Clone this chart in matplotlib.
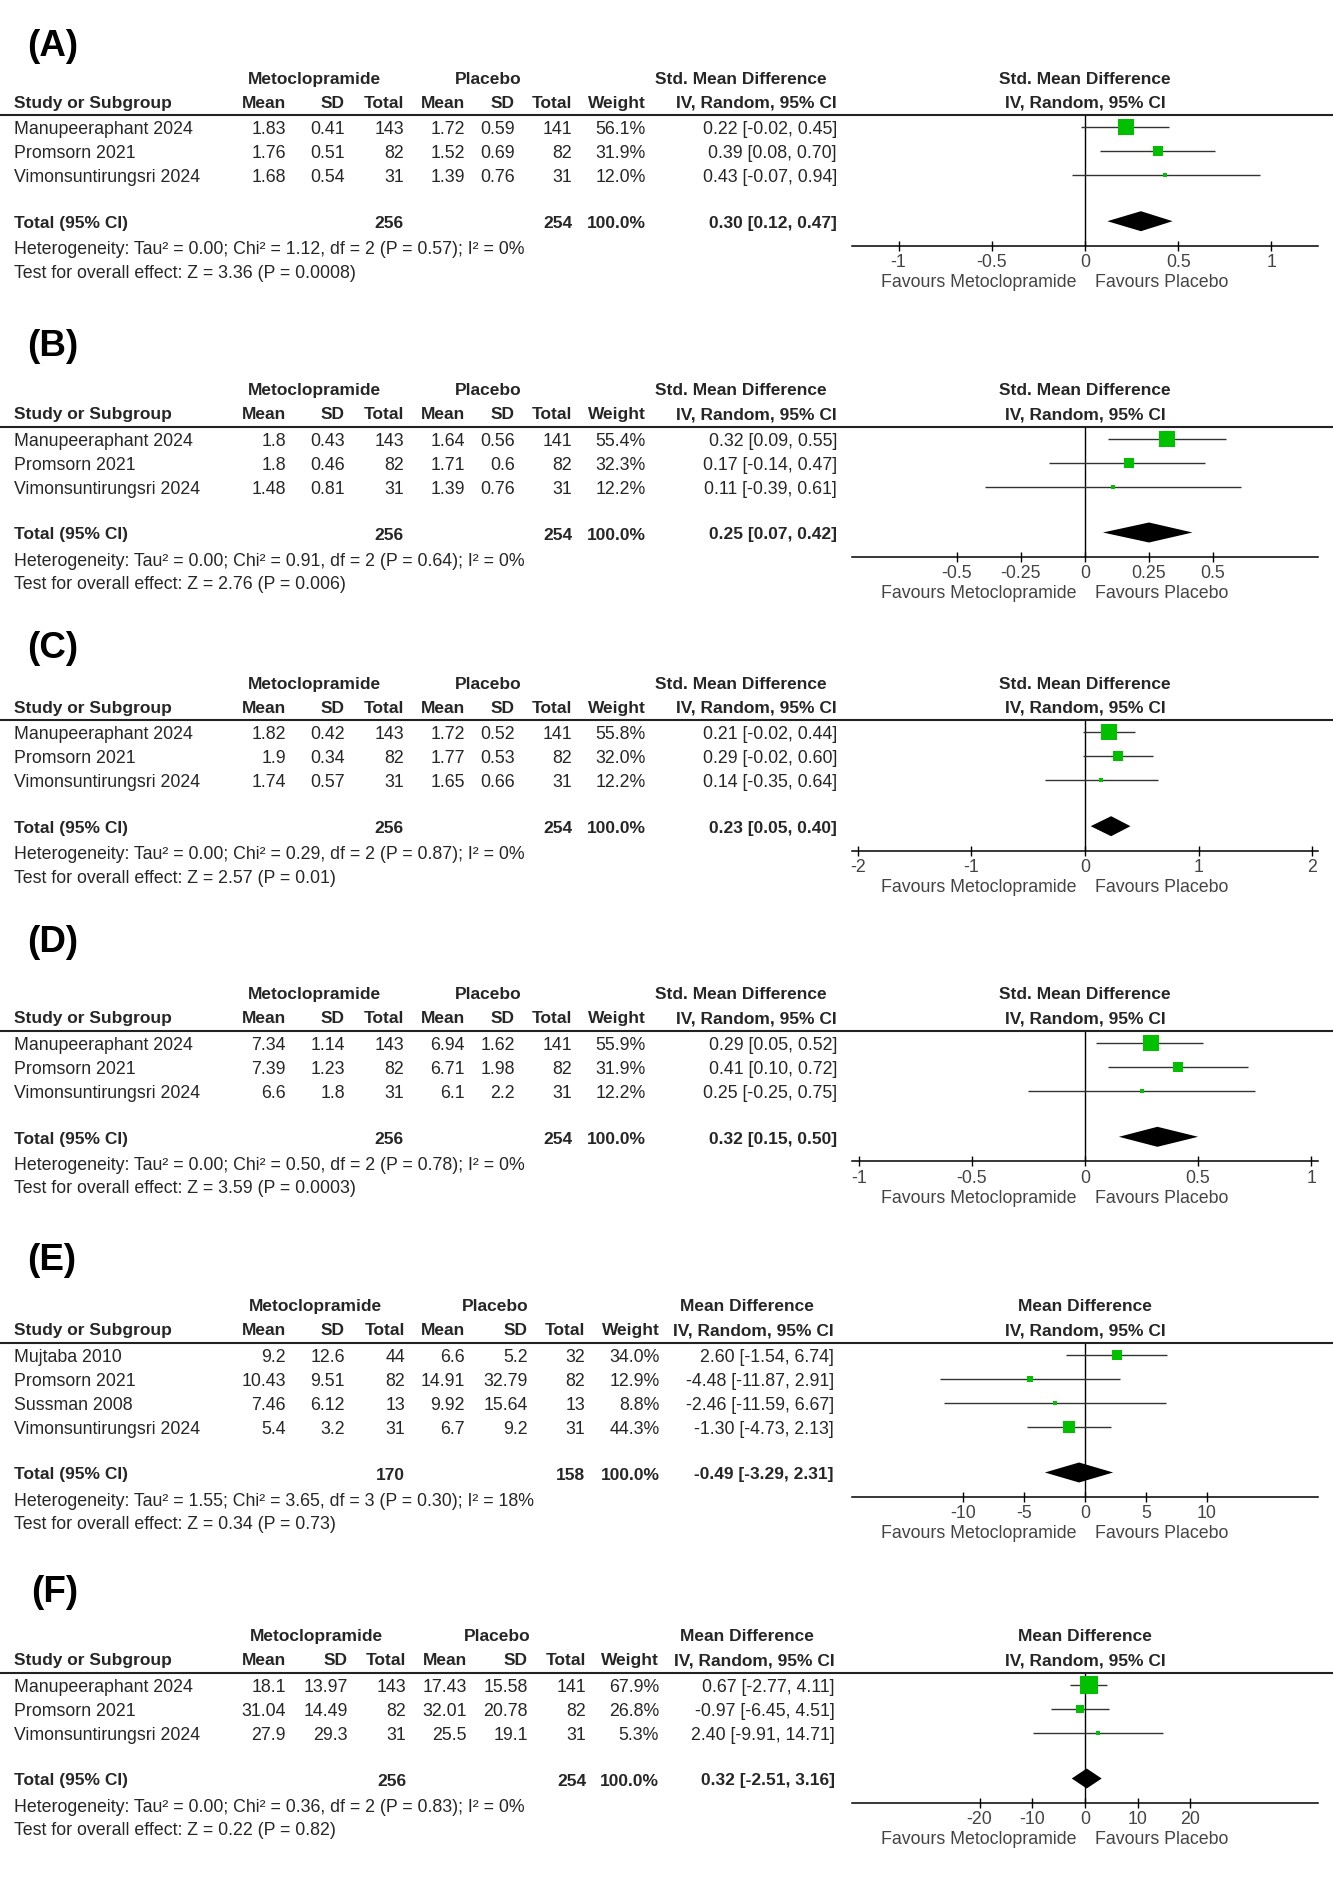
import matplotlib
matplotlib.use("Agg")
import matplotlib.pyplot as plt
from matplotlib.lines import Line2D
from matplotlib.transforms import blended_transform_factory

# ---------------- data ----------------
panel_labels = ["(A)", "(B)", "(C)", "(D)", "(E)", "(F)"]
effect_titles = ["Std. Mean Difference"] * 4 + ["Mean Difference"] * 2

studies_3 = ["Manupeeraphant 2024", "Promsorn 2021", "Vimonsuntirungsri 2024"]
studies_E = ["Mujtaba 2010", "Promsorn 2021", "Sussman 2008", "Vimonsuntirungsri 2024"]

exp_n_3 = [143, 82, 31]
ctl_n_3 = [141, 82, 31]
exp_n_E = [44, 82, 13, 31]
ctl_n_E = [32, 82, 13, 31]

A_exp_mean = [1.83, 1.76, 1.68]
A_exp_sd = [0.41, 0.51, 0.54]
A_ctl_mean = [1.72, 1.52, 1.39]
A_ctl_sd = [0.59, 0.69, 0.76]
A_weight = [56.1, 31.9, 12.0]
A_est = [0.22, 0.39, 0.43]
A_lo = [-0.02, 0.08, -0.07]
A_hi = [0.45, 0.70, 0.94]
A_total = [0.30, 0.12, 0.47]
A_het = "Heterogeneity: Tau² = 0.00; Chi² = 1.12, df = 2 (P = 0.57); I² = 0%"
A_test = "Test for overall effect: Z = 3.36 (P = 0.0008)"

B_exp_mean = [1.8, 1.8, 1.48]
B_exp_sd = [0.43, 0.46, 0.81]
B_ctl_mean = [1.64, 1.71, 1.39]
B_ctl_sd = [0.56, 0.6, 0.76]
B_weight = [55.4, 32.3, 12.2]
B_est = [0.32, 0.17, 0.11]
B_lo = [0.09, -0.14, -0.39]
B_hi = [0.55, 0.47, 0.61]
B_total = [0.25, 0.07, 0.42]
B_het = "Heterogeneity: Tau² = 0.00; Chi² = 0.91, df = 2 (P = 0.64); I² = 0%"
B_test = "Test for overall effect: Z = 2.76 (P = 0.006)"

C_exp_mean = [1.82, 1.9, 1.74]
C_exp_sd = [0.42, 0.34, 0.57]
C_ctl_mean = [1.72, 1.77, 1.65]
C_ctl_sd = [0.52, 0.53, 0.66]
C_weight = [55.8, 32.0, 12.2]
C_est = [0.21, 0.29, 0.14]
C_lo = [-0.02, -0.02, -0.35]
C_hi = [0.44, 0.60, 0.64]
C_total = [0.23, 0.05, 0.40]
C_het = "Heterogeneity: Tau² = 0.00; Chi² = 0.29, df = 2 (P = 0.87); I² = 0%"
C_test = "Test for overall effect: Z = 2.57 (P = 0.01)"

D_exp_mean = [7.34, 7.39, 6.6]
D_exp_sd = [1.14, 1.23, 1.8]
D_ctl_mean = [6.94, 6.71, 6.1]
D_ctl_sd = [1.62, 1.98, 2.2]
D_weight = [55.9, 31.9, 12.2]
D_est = [0.29, 0.41, 0.25]
D_lo = [0.05, 0.10, -0.25]
D_hi = [0.52, 0.72, 0.75]
D_total = [0.32, 0.15, 0.50]
D_het = "Heterogeneity: Tau² = 0.00; Chi² = 0.50, df = 2 (P = 0.78); I² = 0%"
D_test = "Test for overall effect: Z = 3.59 (P = 0.0003)"

E_exp_mean = [9.2, 10.43, 7.46, 5.4]
E_exp_sd = [12.6, 9.51, 6.12, 3.2]
E_ctl_mean = [6.6, 14.91, 9.92, 6.7]
E_ctl_sd = [5.2, 32.79, 15.64, 9.2]
E_weight = [34.0, 12.9, 8.8, 44.3]
E_est = [2.60, -4.48, -2.46, -1.30]
E_lo = [-1.54, -11.87, -11.59, -4.73]
E_hi = [6.74, 2.91, 6.67, 2.13]
E_total = [-0.49, -3.29, 2.31]
E_het = "Heterogeneity: Tau² = 1.55; Chi² = 3.65, df = 3 (P = 0.30); I² = 18%"
E_test = "Test for overall effect: Z = 0.34 (P = 0.73)"

F_exp_mean = [18.1, 31.04, 27.9]
F_exp_sd = [13.97, 14.49, 29.3]
F_ctl_mean = [17.43, 32.01, 25.5]
F_ctl_sd = [15.58, 20.78, 19.1]
F_weight = [67.9, 26.8, 5.3]
F_est = [0.67, -0.97, 2.40]
F_lo = [-2.77, -6.45, -9.91]
F_hi = [4.11, 4.51, 14.71]
F_total = [0.32, -2.51, 3.16]
F_het = "Heterogeneity: Tau² = 0.00; Chi² = 0.36, df = 2 (P = 0.83); I² = 0%"
F_test = "Test for overall effect: Z = 0.22 (P = 0.82)"

axis_ticks = [
    [-1, -0.5, 0, 0.5, 1],
    [-0.5, -0.25, 0, 0.25, 0.5],
    [-2, -1, 0, 1, 2],
    [-1, -0.5, 0, 0.5, 1],
    [-10, -5, 0, 5, 10],
    [-20, -10, 0, 10, 20],
]

panels = [
    dict(studies=studies_3, em=A_exp_mean, es=A_exp_sd, en=exp_n_3, cm=A_ctl_mean, cs=A_ctl_sd, cn=ctl_n_3,
         w=A_weight, est=A_est, lo=A_lo, hi=A_hi, tot=A_total, het=A_het, test=A_test),
    dict(studies=studies_3, em=B_exp_mean, es=B_exp_sd, en=exp_n_3, cm=B_ctl_mean, cs=B_ctl_sd, cn=ctl_n_3,
         w=B_weight, est=B_est, lo=B_lo, hi=B_hi, tot=B_total, het=B_het, test=B_test),
    dict(studies=studies_3, em=C_exp_mean, es=C_exp_sd, en=exp_n_3, cm=C_ctl_mean, cs=C_ctl_sd, cn=ctl_n_3,
         w=C_weight, est=C_est, lo=C_lo, hi=C_hi, tot=C_total, het=C_het, test=C_test),
    dict(studies=studies_3, em=D_exp_mean, es=D_exp_sd, en=exp_n_3, cm=D_ctl_mean, cs=D_ctl_sd, cn=ctl_n_3,
         w=D_weight, est=D_est, lo=D_lo, hi=D_hi, tot=D_total, het=D_het, test=D_test),
    dict(studies=studies_E, em=E_exp_mean, es=E_exp_sd, en=exp_n_E, cm=E_ctl_mean, cs=E_ctl_sd, cn=ctl_n_E,
         w=E_weight, est=E_est, lo=E_lo, hi=E_hi, tot=E_total, het=E_het, test=E_test),
    dict(studies=studies_3, em=F_exp_mean, es=F_exp_sd, en=exp_n_3, cm=F_ctl_mean, cs=F_ctl_sd, cn=ctl_n_3,
         w=F_weight, est=F_est, lo=F_lo, hi=F_hi, tot=F_total, het=F_het, test=F_test),
]

# ---------------- layout (pixels) ----------------
W, H = 1333, 1893
DPI = 100
header_line_y = [115.2, 426.5, 720.2, 1030.8, 1342.5, 1672.5]
label_y = [46, 347, 649, 943, 1261, 1592]
label_x = [27, 27, 27, 27, 27, 31]
xlims = [1.25, 0.91, 2.05, 1.03, 19.1, 44.2]
col_right = [
    [286, 345, 404, 465, 515, 572, 646, 837],
    [286, 345, 404, 465, 515, 572, 646, 837],
    [286, 345, 404, 465, 515, 572, 646, 837],
    [286, 345, 404, 465, 515, 572, 646, 837],
    [286, 345, 405, 465, 528, 585, 660, 834],
    [286, 348, 406, 467, 528, 586, 659, 835],
]
grp_center = [
    [314, 488, 741], [314, 488, 741], [314, 488, 741], [314, 488, 741],
    [315, 495, 747], [316, 497, 747],
]
PLOT_L, PLOT_R = 852, 1318
ROW = 24.0
FIRST = 12.0
TOT_GAP = 46.0
AX_GAP = 24.5
TXT_DY = 2.5  # text baseline correction

FONT = "Liberation Sans"
FS = 12.8
FSB = 12.5
TXT = "#262626"
AXC = "#444444"
GREEN = "#00c000"

plt.rcParams["font.family"] = [FONT, "DejaVu Sans"]

fig = plt.figure(figsize=(W / DPI, H / DPI), dpi=DPI)
fig.patch.set_facecolor("white")


def fx(x):
    return x / W


def fy(y):
    return 1 - y / H


def t(x, y, s, ha="left", bold=False, size=None, color=TXT):
    fig.text(fx(x), fy(y + TXT_DY), s, ha=ha, va="center", fontsize=size or (FSB if bold else FS),
             fontweight="bold" if bold else "normal", color=color)


def g(v):
    return f"{v:g}"


for p, P in enumerate(panels):
    L = header_line_y[p]
    n = len(P["studies"])
    rows_y = [L + FIRST + ROW * i for i in range(n)]
    tot_y = rows_y[-1] + TOT_GAP
    axis_y = tot_y + AX_GAP
    cr = col_right[p]
    gc = grp_center[p]
    h1 = L - 38.5
    h2 = L - 14.5

    # panel label
    fig.text(fx(label_x[p]), fy(label_y[p]), panel_labels[p], ha="left", va="center",
             fontsize=26.5, fontweight="bold", color="black")

    # headers
    t(gc[0], h1, "Metoclopramide", ha="center", bold=True)
    t(gc[1], h1, "Placebo", ha="center", bold=True)
    t(gc[2], h1, effect_titles[p], ha="center", bold=True)
    t(14, h2, "Study or Subgroup", bold=True)
    for x, s in zip(cr, ["Mean", "SD", "Total", "Mean", "SD", "Total", "Weight", "IV, Random, 95% CI"]):
        t(x, h2, s, ha="right", bold=True)

    # full-width header rule
    fig.add_artist(Line2D([0, 1], [fy(L), fy(L)], transform=fig.transFigure,
                          color="#222222", lw=1.5))

    # study rows
    for i in range(n):
        y = rows_y[i]
        t(14, y, P["studies"][i])
        vals = [g(P["em"][i]), g(P["es"][i]), str(P["en"][i]),
                g(P["cm"][i]), g(P["cs"][i]), str(P["cn"][i]),
                f"{P['w'][i]:.1f}%",
                f"{P['est'][i]:.2f} [{P['lo'][i]:.2f}, {P['hi'][i]:.2f}]"]
        for x, s in zip(cr, vals):
            t(x, y, s, ha="right")

    # total row
    t(14, tot_y, "Total (95% CI)", bold=True)
    t(cr[2], tot_y, str(sum(P["en"])), ha="right", bold=True)
    t(cr[5], tot_y, str(sum(P["cn"])), ha="right", bold=True)
    t(cr[6], tot_y, "100.0%", ha="right", bold=True)
    te, tl, th = P["tot"]
    t(cr[7], tot_y, f"{te:.2f} [{tl:.2f}, {th:.2f}]", ha="right", bold=True)
    t(14, tot_y + 26, P["het"])
    t(14, tot_y + 49.5, P["test"])

    # forest axes
    ax = fig.add_axes([fx(PLOT_L), fy(axis_y), fx(PLOT_R) - fx(PLOT_L), (axis_y - L) / H])
    ax.set_facecolor("none")
    xl = xlims[p]
    ax.set_xlim(-xl, xl)
    y_top = -FIRST / ROW
    y_bot = (axis_y - L - FIRST) / ROW
    ax.set_ylim(y_bot, y_top)
    r_tot = (tot_y - L - FIRST) / ROW

    ax.axvline(0, color="black", lw=1.0, zorder=1)
    for i in range(n):
        ax.plot([P["lo"][i], P["hi"][i]], [i, i], color="#333333", lw=1.0, zorder=2,
                solid_capstyle="butt")
        side_px = max(5.0, 1.8 + 0.25 * P["w"][i])
        ax.plot([P["est"][i]], [i], marker="s", linestyle="none", ms=side_px * 0.72,
                mfc=GREEN, mec=GREEN, mew=0, zorder=3)
    hh = 10.0 / ROW
    ax.fill([tl, te, th, te], [r_tot, r_tot - hh, r_tot, r_tot + hh], color="black",
            lw=0, zorder=3)

    for side in ["top", "left", "right"]:
        ax.spines[side].set_visible(False)
    ax.spines["bottom"].set_color("black")
    ax.spines["bottom"].set_linewidth(1.1)
    ax.set_yticks([])
    ax.set_xticks(axis_ticks[p])
    ax.set_xticklabels([g(v) for v in axis_ticks[p]])
    ax.tick_params(axis="x", direction="inout", length=6.5, width=1.0, color="black",
                   pad=2.8, labelsize=FS, labelcolor=AXC)

    # right-hand header (centered on zero line)
    tr = blended_transform_factory(ax.transData, fig.transFigure)
    ax.text(0, fy(h1 + TXT_DY), effect_titles[p], transform=tr, ha="center", va="center",
            fontsize=FSB, fontweight="bold", color=TXT)
    ax.text(0, fy(h2 + TXT_DY), "IV, Random, 95% CI", transform=tr, ha="center", va="center",
            fontsize=FSB, fontweight="bold", color=TXT)
    ax.annotate("Favours Metoclopramide", xy=(0, fy(axis_y + 37)), xycoords=tr,
                xytext=(-6, 0), textcoords="offset points", ha="right", va="center",
                fontsize=FS, color=AXC, annotation_clip=False)
    ax.annotate("Favours Placebo", xy=(0, fy(axis_y + 37)), xycoords=tr,
                xytext=(7, 0), textcoords="offset points", ha="left", va="center",
                fontsize=FS, color=AXC, annotation_clip=False)

fig.savefig("out.png", dpi=DPI, facecolor="white")
